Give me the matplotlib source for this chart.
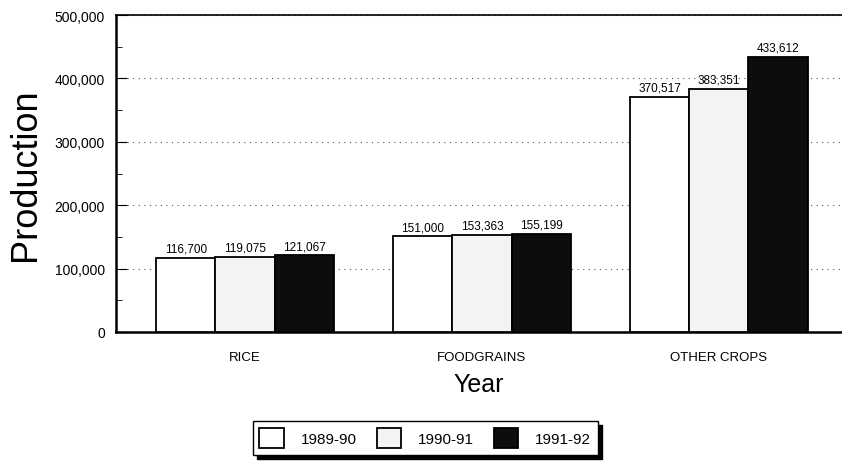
import numpy as np
import matplotlib.pyplot as plt
from matplotlib.ticker import FuncFormatter, MultipleLocator

plt.rcParams['font.family'] = ['Liberation Sans', 'DejaVu Sans']

categories = ['RICE', 'FOODGRAINS', 'OTHER CROPS']
series_names = ['1989-90', '1990-91', '1991-92']
vals_8990 = [116700, 151000, 370517]
vals_9091 = [119075, 153363, 383351]
vals_9192 = [121067, 155199, 433612]

fig = plt.figure(figsize=(8.42, 4.64), dpi=100)
ax = fig.add_axes([116/842, 1 - 333/464, 1 - 116/842, (333 - 16)/464])

x = np.arange(len(categories))
w = 0.25
colors = ['white', '#f3f3f3', '#0d0d0d']
all_vals = [vals_8990, vals_9091, vals_9192]
bars = []
for i, (vals, c) in enumerate(zip(all_vals, colors)):
    b = ax.bar(x + (i - 1) * w, vals, w, color=c, edgecolor='black', linewidth=1.3,
               label=series_names[i], zorder=3)
    bars.append(b)
    for xi, v in zip(x + (i - 1) * w, vals):
        ax.text(xi, v + 5000, f'{v:,}', ha='center', va='bottom', fontsize=8.5, zorder=4)

ax.set_xlim(-0.545, 2.52)
ax.set_ylim(0, 500000)
ax.yaxis.set_major_locator(MultipleLocator(100000))
ax.yaxis.set_minor_locator(MultipleLocator(50000))
ax.yaxis.set_major_formatter(FuncFormatter(lambda v, p: f'{int(v):,}'))
ax.set_xticks(x)
ax.set_xticklabels(categories, fontsize=9.5)
ax.tick_params(axis='x', length=0, pad=14)
ax.tick_params(axis='y', which='major', direction='in', length=8, labelsize=10, pad=8)
ax.tick_params(axis='y', which='minor', direction='in', length=4)
ax.grid(axis='y', linestyle=(0, (1, 4)), color='#555555', linewidth=0.8, zorder=0)

ax.spines['right'].set_visible(False)
ax.spines['left'].set_linewidth(1.8)
ax.spines['bottom'].set_linewidth(1.8)
ax.spines['top'].set_linewidth(1.2)

ax.set_ylabel('Production', fontsize=26, labelpad=8)
ax.set_xlabel('Year', fontsize=18, labelpad=6)

leg = fig.legend(handles=bars, labels=series_names, loc='center', bbox_to_anchor=(0.505, 0.054),
                 ncol=3, fontsize=11, frameon=True, fancybox=False,
                 shadow={'color': 'black', 'alpha': 1, 'ox': 3, 'oy': -3},
                 handlelength=1.6, handleheight=1.6, columnspacing=1.3, handletextpad=1.1,
                 borderpad=0.45, borderaxespad=0)
leg.get_frame().set_edgecolor('black')
leg.get_frame().set_linewidth(1.0)

fig.savefig('out.png', dpi=100)
